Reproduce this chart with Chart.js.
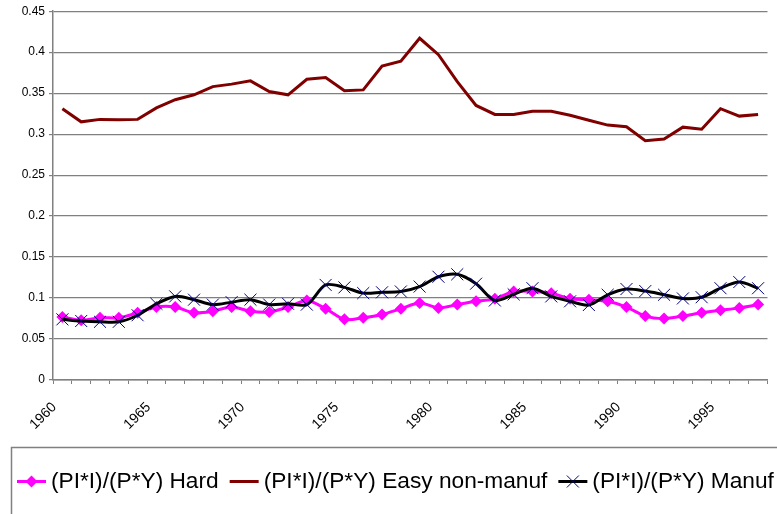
<!DOCTYPE html>
<html lang="en">
<head>
    <meta charset="UTF-8">
    <title>(PI*I)/(P*Y) by sector</title>
    <style>
        body {
            margin: 0;
            background-color: #fff;
        }
        .chart-box {
            width: 777px;
            height: 514px;
        }
    </style>
    <script src="https://cdn.jsdelivr.net/npm/chart.js"></script>
</head>
<body>
    <div class="chart-box">
        <canvas id="shareChart"></canvas>
    </div>

    <script>
        // years 1960..1997, one point per year
        const years = [];
        for (let y = 1960; y <= 1997; y++) years.push(String(y));

        const hard = [
            0.077, 0.073, 0.076, 0.076, 0.082, 0.089, 0.089, 0.082, 0.084, 0.089,
            0.084, 0.083, 0.089, 0.097, 0.087, 0.074, 0.076, 0.080, 0.087, 0.094,
            0.088, 0.092, 0.096, 0.099, 0.108, 0.108, 0.106, 0.099, 0.098, 0.096,
            0.089, 0.078, 0.075, 0.078, 0.082, 0.085, 0.088, 0.092
        ];
        const easyNonManuf = [
            0.331, 0.315, 0.318, 0.3175, 0.318, 0.332, 0.342, 0.348, 0.358, 0.361,
            0.365, 0.352, 0.348, 0.367, 0.369, 0.353, 0.354, 0.383, 0.389, 0.417,
            0.397, 0.364, 0.335, 0.324, 0.324, 0.328, 0.328, 0.323, 0.317, 0.311,
            0.309, 0.292, 0.294, 0.3085, 0.306, 0.331, 0.322, 0.324
        ];
        const manuf = [
            0.074, 0.072, 0.071, 0.071, 0.079, 0.093, 0.102, 0.098, 0.092, 0.095,
            0.098, 0.092, 0.093, 0.092, 0.116, 0.113, 0.106, 0.107, 0.108, 0.114,
            0.126, 0.129, 0.1175, 0.097, 0.1045, 0.112, 0.102, 0.096, 0.0915, 0.104,
            0.111, 0.1085, 0.104, 0.0995, 0.101, 0.112, 0.1195, 0.112
        ];
        const yTicks = [0, 0.05, 0.1, 0.15, 0.2, 0.25, 0.3, 0.35, 0.4, 0.45];
        const seriesNames = ['(PI*I)/(P*Y) Hard', '(PI*I)/(P*Y) Easy non-manuf', '(PI*I)/(P*Y) Manuf'];

        const FONT = "'Liberation Sans', Arial, sans-serif";
        const GRID = '#808080';

        // Excel-style legend: boxed row under the axis
        function drawMarker(ctx, ds, x, y) {
            if (ds.pointStyle === 'rectRot') {
                ctx.fillStyle = ds.backgroundColor;
                ctx.beginPath();
                ctx.moveTo(x, y - 6); ctx.lineTo(x + 6, y); ctx.lineTo(x, y + 6); ctx.lineTo(x - 6, y);
                ctx.closePath();
                ctx.fill();
            } else if (ds.pointStyle === 'crossRot') {
                ctx.strokeStyle = ds.pointBorderColor;
                ctx.lineWidth = 1;
                ctx.beginPath();
                ctx.moveTo(x - 6, y - 6); ctx.lineTo(x + 6, y + 6);
                ctx.moveTo(x + 6, y - 6); ctx.lineTo(x - 6, y + 6);
                ctx.stroke();
            }
        }

        const boxLegend = {
            id: 'boxLegend',
            afterDraw(chart) {
                const ctx = chart.ctx;
                const top = 447.5;
                const midY = 481.5;
                ctx.save();
                ctx.strokeStyle = GRID;
                ctx.lineWidth = 1.5;
                ctx.strokeRect(11.5, top, chart.width, chart.height);

                ctx.font = '22.7px ' + FONT;
                ctx.textBaseline = 'middle';
                ctx.textAlign = 'left';
                let x = 17;
                chart.data.datasets.forEach(ds => {
                    ctx.strokeStyle = ds.borderColor;
                    ctx.lineWidth = 3;
                    ctx.beginPath();
                    ctx.moveTo(x, midY);
                    ctx.lineTo(x + 29, midY);
                    ctx.stroke();
                    drawMarker(ctx, ds, x + 14.5, midY);
                    x += 34;
                    ctx.fillStyle = '#000';
                    ctx.fillText(ds.label, x, midY);
                    x += ctx.measureText(ds.label).width + 11;
                });
                ctx.restore();
            }
        };

        new Chart(document.getElementById('shareChart'), {
            type: 'line',
            data: {
                labels: years,
                datasets: [
                    {
                        label: seriesNames[0],
                        data: hard,
                        borderColor: '#ff00ff',
                        backgroundColor: '#ff00ff',
                        borderWidth: 3,
                        pointStyle: 'rectRot',
                        pointRadius: 6,
                        pointBorderWidth: 0,
                        tension: 0.3,
                        order: 3
                    },
                    {
                        label: seriesNames[1],
                        data: easyNonManuf,
                        borderColor: '#800000',
                        backgroundColor: '#800000',
                        borderWidth: 3,
                        pointRadius: 0,
                        tension: 0,
                        order: 2
                    },
                    {
                        label: seriesNames[2],
                        data: manuf,
                        borderColor: '#000000',
                        backgroundColor: '#000080',
                        borderWidth: 3,
                        pointStyle: 'crossRot',
                        pointRadius: 8.5,
                        pointBorderColor: '#000080',
                        pointBorderWidth: 1,
                        tension: 0.3,
                        order: 1
                    }
                ]
            },
            options: {
                responsive: true,
                maintainAspectRatio: false,
                animation: false,
                layout: { padding: { top: 4, right: 3, left: 0, bottom: 67 } },
                scales: {
                    x: {
                        offset: true,
                        grid: {
                            offset: true,
                            drawOnChartArea: false,
                            drawTicks: true,
                            tickLength: 4,
                            color: GRID
                        },
                        border: { color: GRID, width: 1.5 },
                        ticks: {
                            autoSkip: false,
                            maxRotation: 45,
                            minRotation: 45,
                            padding: 15,
                            labelOffset: -8,
                            color: '#000',
                            font: { family: FONT, size: 14 },
                            callback: function (v, i) {
                                const y = Number(years[i]);
                                return y % 5 === 0 ? years[i] : '';
                            }
                        },
                        afterFit: s => {
                            s.height = 67;
                            s.paddingRight = 0;
                            s.paddingLeft = 0;
                        }
                    },
                    y: {
                        min: yTicks[0],
                        max: yTicks[yTicks.length - 1],
                        afterBuildTicks: s => { s.ticks = yTicks.map(v => ({ value: v })); },
                        grid: { color: GRID, lineWidth: 1.2, tickLength: 4 },
                        border: { color: GRID, width: 1.5 },
                        ticks: {
                            color: '#000',
                            padding: 4,
                            font: { family: FONT, size: 12 },
                            callback: v => String(+v.toFixed(2))
                        },
                        afterFit: s => { s.width = 53; }
                    }
                },
                plugins: {
                    tooltip: { enabled: false },
                    legend: { display: false }
                }
            },
            plugins: [boxLegend]
        });
    </script>
</body>
</html>
